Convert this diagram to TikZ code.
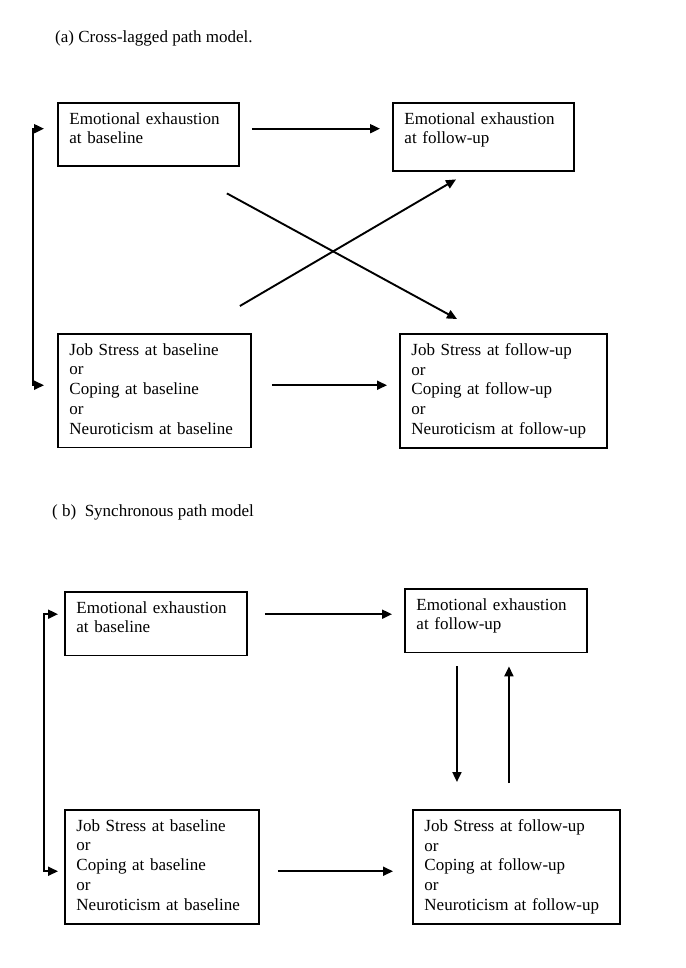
\documentclass[tikz,border=0pt]{standalone}
\usepackage{fontspec}
\setmainfont{Liberation Serif}
\usetikzlibrary{arrows.meta,calc}
\newcommand{\boxgap}[1]{\rule[-#1]{0pt}{#1}}

\begin{document}
\begin{tikzpicture}[x=1pt,y=-1pt]
  \tikzset{
    varbox/.style={draw,line width=1.9pt,anchor=north west,align=left,
      inner xsep=11.5pt,inner ysep=9.5pt,text width=#1,
      font=\fontsize{17}{19.7}\selectfont},
    path arrow/.style={line width=1.9pt,-{Triangle[length=10pt,width=9pt]}},
    both arrow/.style={line width=1.9pt,{Triangle[length=10pt,width=9pt]}-{Triangle[length=10pt,width=9pt]}},
    caption/.style={anchor=base west,inner sep=0pt,font=\fontsize{17}{19.7}\selectfont}
  }
  \useasboundingbox[fill=white] (0,0) rectangle (685,968);

  %PANEL A
  \node[caption] (capA) at (55,43) {(a) Cross-lagged path model.};
  \node[varbox=158pt] (eeBase) at (57,102) {Emotional exhaustion\\at baseline\boxgap{13pt}};
  \node[varbox=158pt] (eeFollow) at (392,102) {Emotional exhaustion\\at follow-up\boxgap{18pt}};
  \node[varbox=170pt] (otBase) at (57,333) {Job Stress at baseline\\or\\Coping at baseline\\or\\Neuroticism at baseline\boxgap{4pt}};
  \node[varbox=184pt] (otFollow) at (399,333) {Job Stress at follow-up\\or\\Coping at follow-up\\or\\Neuroticism at follow-up\boxgap{4pt}};

  \draw[path arrow,shorten <=12pt,shorten >=12pt] ([yshift=6pt]eeBase.east) -- ([yshift=6pt]eeBase.east -| eeFollow.west);
  \draw[path arrow,shorten <=20pt,shorten >=12pt] ([yshift=5.5pt]otBase.east) -- ([yshift=5.5pt]otBase.east -| otFollow.west);

  %CROSS PATHS
  \coordinate (crossA) at ($(eeBase.south east)+(-13,26)$);
  \coordinate (crossB) at ($(otFollow.north west)+(58,-14)$);
  \coordinate (crossC) at ($(otBase.north east)+(-12,-27)$);
  \coordinate (crossD) at ($(eeFollow.south west)+(64,7)$);
  \draw[path arrow] (crossA) -- (crossB);
  \draw[path arrow] (crossC) -- (crossD);

  %CORRELATION A
  \draw[both arrow] ([xshift=-13pt,yshift=6pt]eeBase.west) -- ++(-11,0) |- ([xshift=-13pt,yshift=5.5pt]otBase.west);

  %PANEL B
  \node[caption] (capB) at (52,516) {( b)\ \ Synchronous path model};
  \node[varbox=159pt] (eeBaseB) at (64,591) {Emotional exhaustion\\at baseline\boxgap{13pt}};
  \node[varbox=159pt] (eeFollowB) at (404,588) {Emotional exhaustion\\at follow-up\boxgap{13pt}};
  \node[varbox=171pt] (otBaseB) at (64,809) {Job Stress at baseline\\or\\Coping at baseline\\or\\Neuroticism at baseline\boxgap{4pt}};
  \node[varbox=184pt] (otFollowB) at (412,809) {Job Stress at follow-up\\or\\Coping at follow-up\\or\\Neuroticism at follow-up\boxgap{4pt}};

  \draw[path arrow,shorten <=17pt,shorten >=12pt] ([yshift=9.5pt]eeBaseB.east) -- ([yshift=9.5pt]eeBaseB.east -| eeFollowB.west);
  \draw[path arrow,shorten <=18pt,shorten >=19pt] ([yshift=-4.5pt]otBaseB.east) -- ([yshift=-4.5pt]otBaseB.east -| otFollowB.west);

  %SYNCHRONOUS PATHS
  \draw[path arrow,shorten <=13pt,shorten >=27pt] ([xshift=-39pt]eeFollowB.south) -- ([xshift=-39pt]eeFollowB.south |- otFollowB.north);
  \draw[path arrow,shorten <=26pt,shorten >=13pt] ([xshift=13pt]eeFollowB.south |- otFollowB.north) -- ([xshift=13pt]eeFollowB.south);

  %CORRELATION B
  \draw[both arrow] ([xshift=-6pt,yshift=9.5pt]eeBaseB.west) -- ++(-14,0) |- ([xshift=-6pt,yshift=-4.5pt]otBaseB.west);
\end{tikzpicture}
\end{document}
